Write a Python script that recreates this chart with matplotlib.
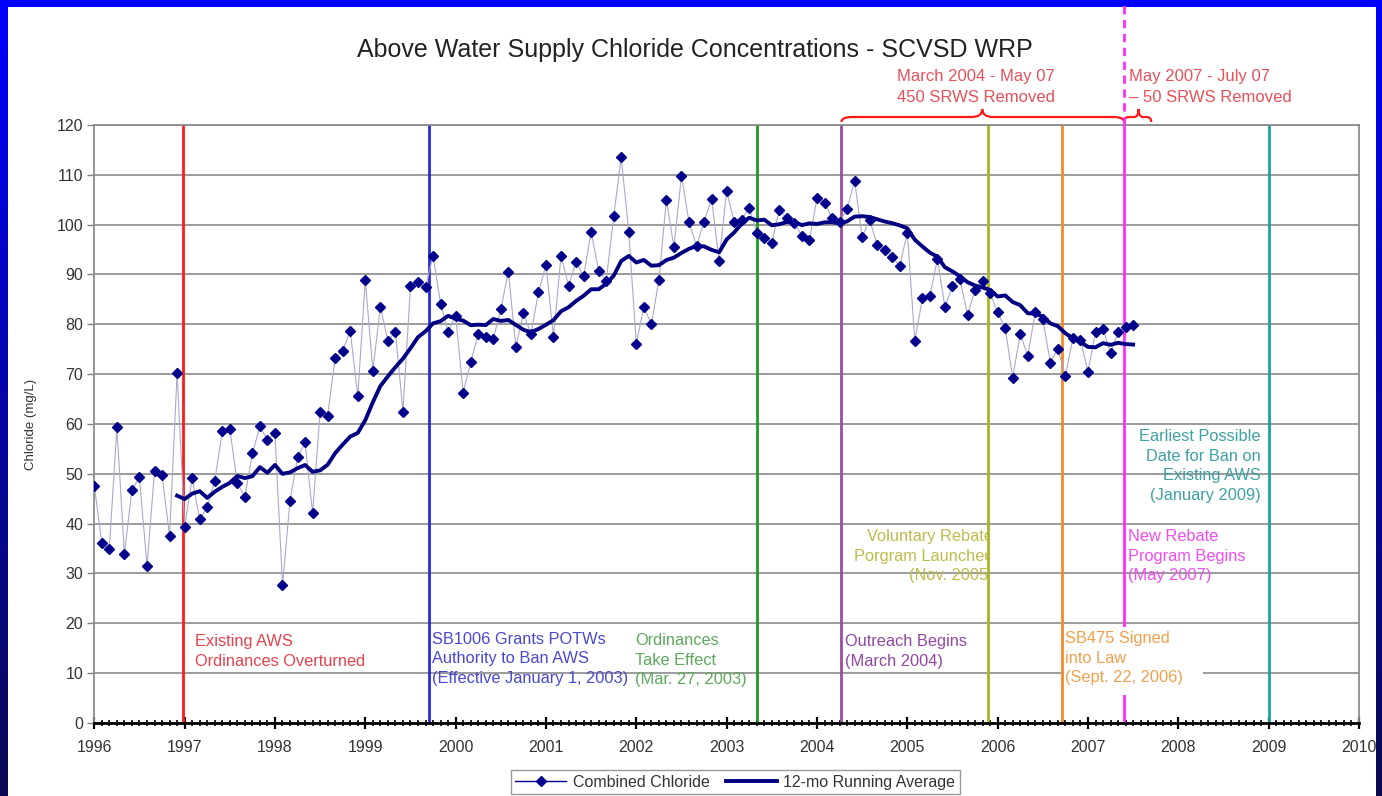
import numpy as np
import pandas as pd
import matplotlib
matplotlib.use("Agg")
import matplotlib.pyplot as plt
from matplotlib.lines import Line2D
from matplotlib.patches import Rectangle, PathPatch
from matplotlib.path import Path
from matplotlib.transforms import Bbox, TransformedBbox

plt.rcParams['font.family'] = ['Liberation Sans', 'DejaVu Sans']

# Monthly combined chloride (mg/L), January 1996 - July 2007
start_year = 1996
chloride = [
    47.6, 36.1, 35.0, 59.3, 33.9, 46.8, 49.3, 31.5, 50.5, 49.7, 37.6, 70.2,   # 1996
    39.4, 49.1, 40.9, 43.3, 48.6, 58.5, 59.0, 48.1, 45.4, 54.1, 59.5, 56.8,   # 1997
    58.1, 27.6, 44.6, 53.3, 56.3, 42.1, 62.5, 61.7, 73.3, 74.7, 78.7, 65.6,   # 1998
    88.9, 70.7, 83.5, 76.7, 78.5, 62.5, 87.6, 88.4, 87.4, 93.8, 84.1, 78.5,   # 1999
    81.7, 66.3, 72.4, 78.0, 77.5, 77.1, 83.0, 90.6, 75.5, 82.2, 78.1, 86.4,   # 2000
    91.9, 77.4, 93.8, 87.7, 92.6, 89.6, 98.6, 90.7, 88.7, 101.7, 113.5, 98.5, # 2001
    76.1, 83.5, 80.0, 88.9, 105.0, 95.5, 109.8, 100.6, 95.7, 100.6, 105.2, 92.7,  # 2002
    106.8, 100.5, 101.0, 103.4, 98.4, 97.3, 96.4, 103.0, 101.3, 100.4, 97.7, 97.0,  # 2003
    105.3, 104.4, 101.3, 100.6, 103.1, 108.8, 97.5, 101.0, 95.9, 95.0, 93.6, 91.7,  # 2004
    98.4, 76.7, 85.2, 85.7, 93.1, 83.5, 87.7, 89.0, 81.9, 86.9, 88.7, 86.2,   # 2005
    82.4, 79.3, 69.3, 78.1, 73.7, 82.5, 81.0, 72.3, 75.1, 69.7, 77.2, 76.9,   # 2006
    70.5, 78.5, 79.1, 74.2, 78.5, 79.4, 79.9,                                 # 2007
]

# Milestones (decimal year)
event_dates = [1996.98, 1999.70, 2003.34, 2004.27, 2005.89, 2006.71, 2007.40, 2009.0]
event_labels = [
    "Existing AWS\nOrdinances Overturned",
    "SB1006 Grants POTWs\nAuthority to Ban AWS\n(Effective January 1, 2003)",
    "Ordinances\nTake Effect\n(Mar. 27, 2003)",
    "Outreach Begins\n(March 2004)",
    "Voluntary Rebate\nPorgram Launched\n(Nov. 2005)",
    "SB475 Signed\ninto Law\n(Sept. 22, 2006)",
    "New Rebate\nProgram Begins\n(May 2007)",
    "Earliest Possible\nDate for Ban on\nExisting AWS\n(January 2009)",
]
line_colors = ['#ff1a1a', '#2a2ad8', '#1f9a1f', '#a04aa0', '#a8b622', '#f08a2a', '#ff2cff', '#1fa0a0']
text_colors = ['#e8424c', '#4848d0', '#5ea85e', '#9048a0', '#bcbc4c', '#f0a04c', '#f04cf0', '#3ea2a2']

period_labels = ["March 2004 - May 07\n450 SRWS Removed", "May 2007 - July 07\n\u2013 50 SRWS Removed"]

years = start_year + np.arange(len(chloride)) / 12.0
running = pd.Series(chloride).rolling(12).mean()

W, H = 1382, 796
fig = plt.figure(figsize=(W / 100, H / 100), dpi=100)

# Slide frame: blue bands on the top, left and right edges
bg = np.ones((H, W, 3))
t = np.linspace(0, 1, H)[:, None]
top_c = np.array([0.0, 0.0, 1.0])
bot_c = np.array([0.04, 0.04, 0.32])
grad = (1 - t) * top_c + t * bot_c
bg[:, :8, :] = grad[:, None, :].repeat(8, axis=1)
bg[:, -6:, :] = grad[:, None, :].repeat(6, axis=1)
bg[:7, :, :] = top_c
ax_bg = fig.add_axes([0, 0, 1, 1], zorder=-10)
ax_bg.imshow(bg, aspect='auto', interpolation='nearest', extent=[0, 1, 0, 1])
ax_bg.axis('off')

ax = fig.add_axes([0.06823, 0.09171, 0.91512, 0.75126], zorder=1)
ax.set_facecolor('white')
ax.set_xlim(1996, 2010)
ax.set_ylim(0, 120)

ax.set_yticks(np.arange(0, 121, 10))
ax.yaxis.grid(True, color='#808080', lw=1.1, zorder=0.5)
ax.set_axisbelow(True)

ax.set_xticks(np.arange(1996, 2011))
ax.set_xticks(np.arange(1996, 2010 + 1e-9, 1 / 12), minor=True)
ax.tick_params(axis='x', which='major', direction='inout', length=8, width=1.6,
               color='black', labelcolor='#333333', labelsize=11.5, pad=8)
ax.tick_params(axis='x', which='minor', direction='inout', length=4, width=1.2, color='black')
ax.tick_params(axis='y', direction='out', length=5, width=1, color='#808080',
               labelcolor='#333333', labelsize=11.5, pad=3)
for side in ['left', 'top', 'right']:
    ax.spines[side].set_color('#8c8c8c')
    ax.spines[side].set_linewidth(1.3)
ax.spines['bottom'].set_color('black')
ax.spines['bottom'].set_linewidth(2)

ax.set_ylabel("Chloride (mg/L)", fontsize=9.5, color='#333333',
              family=['Liberation Sans Narrow', 'Liberation Sans', 'DejaVu Sans'])
ax.yaxis.set_label_coords(-0.045, 0.5)

# Milestone lines
for d, c in zip(event_dates, line_colors):
    ax.axvline(d, color=c, lw=2.0, zorder=2)

# White box behind the SB475 note
ax.add_patch(Rectangle((2006.73, 5.6), 1.54, 13.6, facecolor='white', edgecolor='none', zorder=2.5))

# Data series
ax.plot(years, chloride, color='#aaaacc', lw=0.8, zorder=3)
ax.plot(years, chloride, ls='none', marker='D', ms=5.0, color='#00008b', mec='#00008b', zorder=5)
ax.plot(years, running, color='#000080', lw=2.8, zorder=4)

# Milestone notes
txt_kw = dict(fontsize=11.8, va='center', linespacing=1.38, zorder=7)
note_pos = [(1997.11, 14.35, 'left'), (1999.74, 12.85, 'left'), (2001.99, 12.6, 'left'),
            (2004.31, 14.35, 'left'), (2005.95, 33.5, 'right'), (2006.75, 13.0, 'left'),
            (2007.44, 33.5, 'left'), (2008.91, 51.6, 'right')]
for (x, y, ha), s, c in zip(note_pos, event_labels, text_colors):
    tx = ax.text(x, y, s, color=c, ha=ha, **txt_kw)
    if s.startswith("Voluntary"):
        clip = TransformedBbox(Bbox([[1996, 0], [event_dates[4], 120]]), ax.transData)
        tx.set_clip_box(clip)
        tx.set_clip_on(True)

# Removal periods above the plot
red = '#e8505a'
ax.text(2005.76, 127.6, period_labels[0], color=red, fontsize=12, ha='center', va='center',
        linespacing=1.45, clip_on=False)
ax.text(2007.45, 127.6, period_labels[1], color=red, fontsize=12, ha='left', va='center',
        linespacing=1.45, clip_on=False)


def brace(x0, x1, xt, yb, ym, yt, dx):
    verts = [(x0, yb), (x0, ym), (x0 + dx, ym), (xt - dx, ym), (xt, ym), (xt, yt),
             (xt, ym), (xt + dx, ym), (x1 - dx, ym), (x1, ym), (x1, yb)]
    codes = [Path.MOVETO, Path.CURVE3, Path.CURVE3, Path.LINETO, Path.CURVE3, Path.CURVE3,
             Path.CURVE3, Path.CURVE3, Path.LINETO, Path.CURVE3, Path.CURVE3]
    ax.add_patch(PathPatch(Path(verts, codes), fill=False, edgecolor='#ff1a1a', lw=1.6,
                           clip_on=False, zorder=6))


brace(event_dates[3], event_dates[6], 2005.83, 120.6, 121.6, 123.2, 0.12)
brace(event_dates[6], 2007.70, 2007.56, 120.6, 121.6, 123.2, 0.05)
ax.plot([event_dates[6]] * 2, [120, 145], color=line_colors[6], lw=2.0, dashes=(3, 2),
        clip_on=False, zorder=6)

fig.text(0.503, 0.937, "Above Water Supply Chloride Concentrations - SCVSD WRP",
         ha='center', va='center', fontsize=18, color='#222222')

handles = [Line2D([], [], color='#00008b', lw=1, marker='D', ms=5.0),
           Line2D([], [], color='#000080', lw=2.8)]
leg = fig.legend(handles, ["Combined Chloride", "12-mo Running Average"], loc='upper center',
                 bbox_to_anchor=(0.532, 0.033), ncol=2, frameon=True, fancybox=False,
                 fontsize=11.5, handlelength=3.2, columnspacing=1.0, handletextpad=0.4,
                 borderpad=0.3, borderaxespad=0.0, labelcolor='#333333')
leg.get_frame().set_edgecolor('#808080')
leg.get_frame().set_linewidth(1.0)

fig.savefig("out.png", dpi=100)
